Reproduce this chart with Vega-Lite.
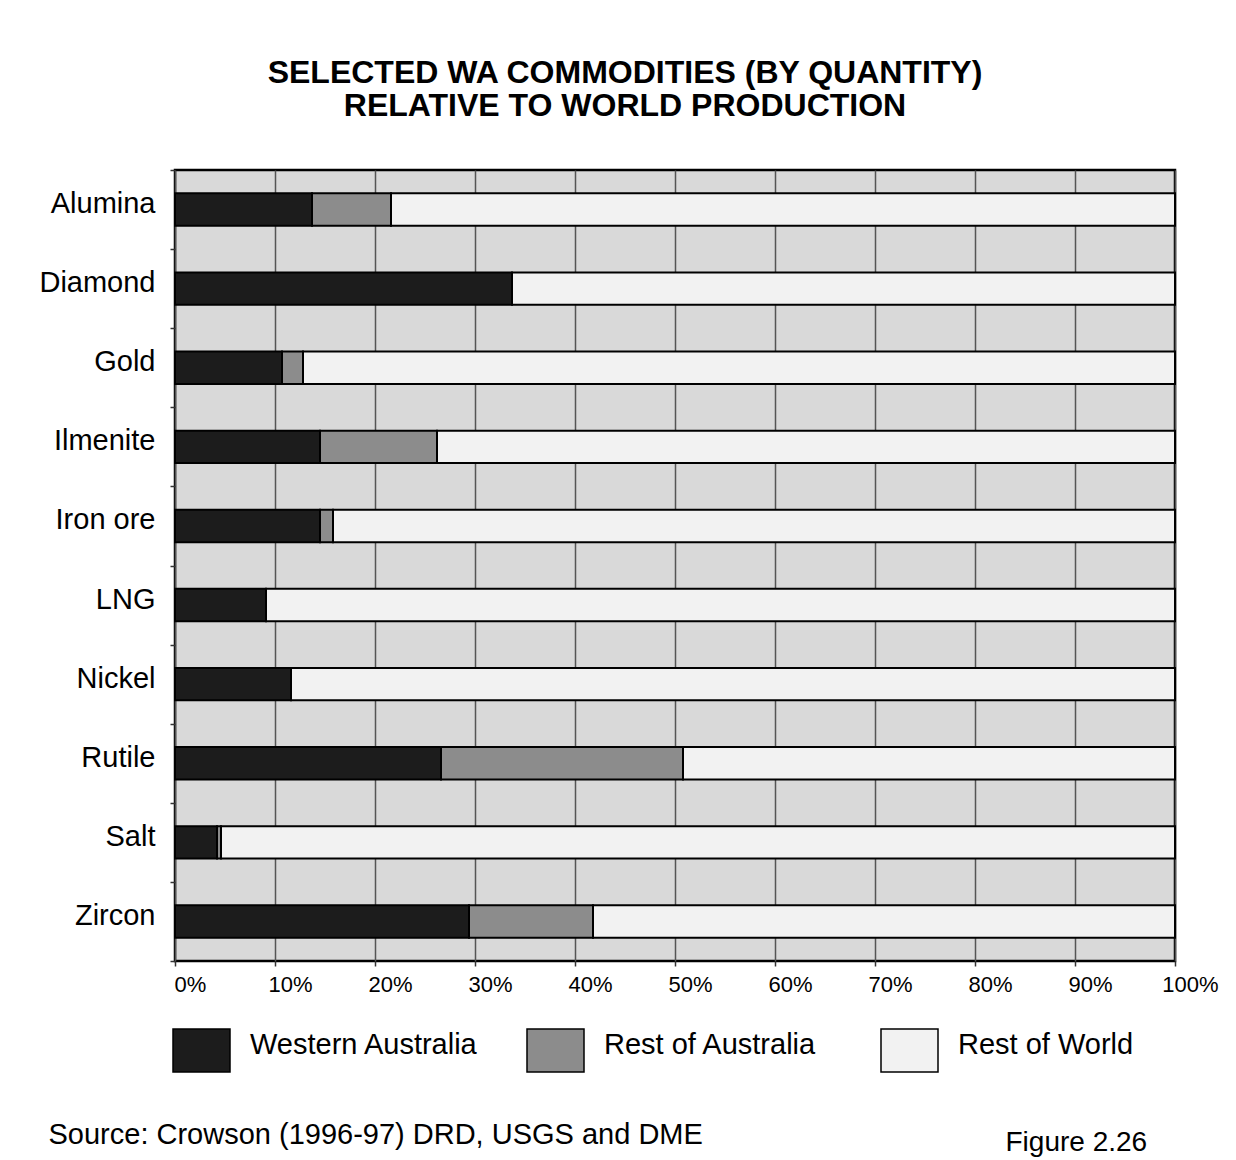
{
  "$schema": "https://vega.github.io/schema/vega-lite/v6.json",
  "width": 1000,
  "height": 791,
  "autosize": {"type": "none"},
  "padding": {"left": 175, "top": 170, "right": 61, "bottom": 199},
  "background": "#ffffff",
  "title": {
    "text": ["SELECTED WA COMMODITIES (BY QUANTITY)", "RELATIVE TO WORLD PRODUCTION"],
    "anchor": "middle",
    "dx": -50,
    "offset": 33,
    "font": "Liberation Sans",
    "fontSize": 32,
    "fontWeight": "bold",
    "lineHeight": 33,
    "color": "#000000"
  },
  "data": {
    "values": [
      {"commodity": "Alumina", "region": "Western Australia", "rank": 1, "share": 13.7},
      {"commodity": "Alumina", "region": "Rest of Australia", "rank": 2, "share": 7.9},
      {"commodity": "Alumina", "region": "Rest of World", "rank": 3, "share": 78.4},
      {"commodity": "Diamond", "region": "Western Australia", "rank": 1, "share": 33.7},
      {"commodity": "Diamond", "region": "Rest of World", "rank": 3, "share": 66.3},
      {"commodity": "Gold", "region": "Western Australia", "rank": 1, "share": 10.7},
      {"commodity": "Gold", "region": "Rest of Australia", "rank": 2, "share": 2.1},
      {"commodity": "Gold", "region": "Rest of World", "rank": 3, "share": 87.2},
      {"commodity": "Ilmenite", "region": "Western Australia", "rank": 1, "share": 14.5},
      {"commodity": "Ilmenite", "region": "Rest of Australia", "rank": 2, "share": 11.7},
      {"commodity": "Ilmenite", "region": "Rest of World", "rank": 3, "share": 73.8},
      {"commodity": "Iron ore", "region": "Western Australia", "rank": 1, "share": 14.5},
      {"commodity": "Iron ore", "region": "Rest of Australia", "rank": 2, "share": 1.3},
      {"commodity": "Iron ore", "region": "Rest of World", "rank": 3, "share": 84.2},
      {"commodity": "LNG", "region": "Western Australia", "rank": 1, "share": 9.1},
      {"commodity": "LNG", "region": "Rest of World", "rank": 3, "share": 90.9},
      {"commodity": "Nickel", "region": "Western Australia", "rank": 1, "share": 11.6},
      {"commodity": "Nickel", "region": "Rest of World", "rank": 3, "share": 88.4},
      {"commodity": "Rutile", "region": "Western Australia", "rank": 1, "share": 26.6},
      {"commodity": "Rutile", "region": "Rest of Australia", "rank": 2, "share": 24.2},
      {"commodity": "Rutile", "region": "Rest of World", "rank": 3, "share": 49.2},
      {"commodity": "Salt", "region": "Western Australia", "rank": 1, "share": 4.2},
      {"commodity": "Salt", "region": "Rest of Australia", "rank": 2, "share": 0.4},
      {"commodity": "Salt", "region": "Rest of World", "rank": 3, "share": 95.4},
      {"commodity": "Zircon", "region": "Western Australia", "rank": 1, "share": 29.4},
      {"commodity": "Zircon", "region": "Rest of Australia", "rank": 2, "share": 12.4},
      {"commodity": "Zircon", "region": "Rest of World", "rank": 3, "share": 58.2}
    ]
  },
  "mark": {"type": "bar", "stroke": "#000000", "strokeWidth": 2, "height": {"band": 0.41}},
  "encoding": {
    "y": {
      "field": "commodity",
      "type": "nominal",
      "sort": null,
      "scale": {"paddingInner": 0, "paddingOuter": 0},
      "axis": {
        "title": "Figure 2.26",
        "titleAngle": 0,
        "titleX": 830,
        "titleY": 980,
        "titleAlign": "left",
        "titleBaseline": "alphabetic",
        "titleFont": "Liberation Sans",
        "titleFontSize": 28,
        "titleFontWeight": "normal",
        "titleColor": "#000000",
        "domain": false,
        "ticks": true,
        "tickBand": "extent",
        "tickSize": 5,
        "tickColor": "#333333",
        "tickWidth": 1.5,
        "grid": false,
        "labelFont": "Liberation Sans",
        "labelFontSize": 29,
        "labelColor": "#000000",
        "labelPadding": 15,
        "labelOffset": -6,
        "labelLimit": 300
      }
    },
    "x": {
      "field": "share",
      "type": "quantitative",
      "stack": "zero",
      "scale": {"domain": [0, 100], "nice": false},
      "axis": {
        "values": [0, 10, 20, 30, 40, 50, 60, 70, 80, 90, 100],
        "labelExpr": "datum.value + '%'",
        "grid": true,
        "gridColor": "#555555",
        "gridWidth": 1.5,
        "domain": false,
        "ticks": true,
        "tickSize": 5,
        "tickColor": "#333333",
        "tickWidth": 1.5,
        "labelFont": "Liberation Sans",
        "labelFontSize": 22,
        "labelColor": "#000000",
        "labelFlush": false,
        "labelOverlap": false,
        "labelOffset": 15,
        "labelPadding": 8,
        "title": "Source: Crowson (1996-97) DRD, USGS and DME",
        "titleX": -127,
        "titleY": 182,
        "titleAlign": "left",
        "titleBaseline": "alphabetic",
        "titleFont": "Liberation Sans",
        "titleFontSize": 29,
        "titleFontWeight": "normal",
        "titleColor": "#000000"
      }
    },
    "color": {
      "field": "region",
      "type": "nominal",
      "scale": {
        "domain": ["Western Australia", "Rest of Australia", "Rest of World"],
        "range": ["#1c1c1c", "#8c8c8c", "#f2f2f2"]
      },
      "legend": {
        "title": null,
        "orient": "none",
        "legendX": -3,
        "legendY": 845,
        "direction": "horizontal",
        "columns": 3,
        "gridAlign": "all",
        "columnPadding": 45,
        "padding": 0,
        "symbolType": "M-1,-0.544H1V0.964H-1Z",
        "symbolSize": 3249,
        "symbolStrokeColor": "#000000",
        "symbolStrokeWidth": 1.5,
        "symbolOpacity": 1,
        "labelFont": "Liberation Sans",
        "labelFontSize": 29,
        "labelColor": "#000000",
        "labelOffset": 19,
        "labelLimit": 400
      }
    },
    "order": {"field": "rank", "type": "quantitative"}
  },
  "config": {
    "font": "Liberation Sans",
    "view": {"fill": "#d9d9d9", "stroke": "#000000", "strokeWidth": 2.5}
  }
}
